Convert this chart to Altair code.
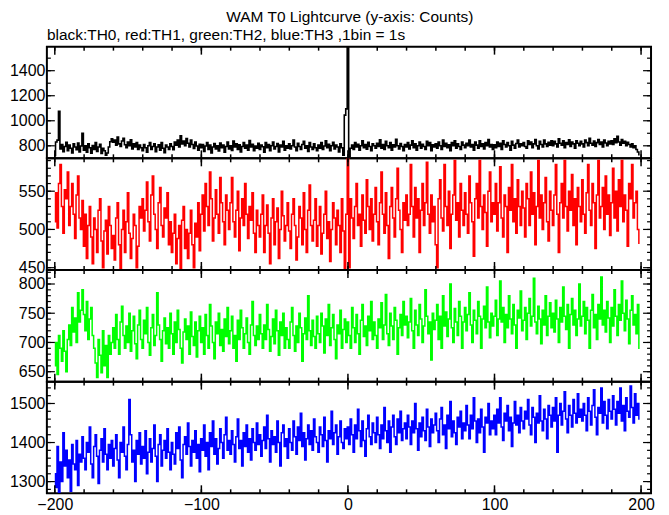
import altair as alt
import pandas as pd

T_START = -200
X_DOMAIN = [-205.4, 206.8]

# TH0 (black), counts per 1 s bin, t = -200 .. 199
th0 = [
    722, 830, 845, 1075, 775, 810, 752, 795, 828, 760, 805, 780, 742, 815, 790, 768, 822, 750, 798, 900,
    765, 800, 748, 815, 785, 740, 802, 770, 825, 755, 790, 812, 738, 780, 760, 725, 742, 790, 832, 855,
    828, 845, 805, 870, 815, 795, 838, 860, 808, 785, 830, 800, 848, 775, 815, 790, 825, 770, 805, 785,
    760, 810, 785, 748, 800, 825, 770, 795, 815, 752, 790, 808, 765, 825, 780, 745, 805, 790, 770, 815,
    795, 768, 830, 805, 845, 790, 880, 815, 838, 800, 858, 820, 790, 845, 810, 778, 830, 798, 765, 812,
    785, 810, 755, 798, 825, 770, 805, 742, 790, 818, 775, 800, 758, 822, 785, 805, 748, 795, 830, 775,
    800, 762, 838, 790, 815, 770, 808, 750, 795, 825, 780, 805, 765, 842, 790, 812, 760, 798, 780, 820,
    770, 805, 792, 748, 825, 785, 810, 760, 800, 830, 775, 795, 818, 750, 805, 790, 835, 765, 800, 780,
    815, 775, 800, 845, 790, 760, 820, 795, 770, 810, 835, 780, 800, 755, 825, 790, 770, 815, 785, 760,
    805, 780, 825, 770, 798, 840, 785, 812, 760, 800, 828, 775, 805, 790, 750, 815, 785, 725, 1045, 1095,
    1950, 715, 780, 805, 770, 825, 790, 812, 765, 800, 840, 785, 810, 772, 828, 795, 760, 815, 800, 780,
    820, 795, 848, 780, 810, 770, 835, 800, 785, 825, 765, 808, 790, 852, 800, 775, 818, 795, 760, 810,
    790, 825, 775, 805, 840, 785, 815, 765, 800, 830, 780, 812, 795, 770, 835, 800, 825, 760, 808, 790,
    815, 780, 830, 800, 770, 845, 795, 820, 785, 808, 760, 825, 800, 840, 780, 815, 795, 770, 830, 805,
    785, 820, 800, 845, 790, 810, 765, 830, 805, 780, 840, 795, 815, 775, 825, 800, 850, 790, 810, 770,
    808, 785, 830, 795, 820, 770, 840, 810, 790, 825, 800, 765, 835, 805, 780, 818, 845, 790, 815, 800,
    825, 795, 780, 840, 810, 830, 785, 815, 850, 800, 775, 835, 810, 790, 845, 815, 795, 828, 805, 840,
    800, 835, 815, 790, 855, 820, 805, 840, 785, 825, 810, 848, 795, 830, 815, 780, 840, 820, 800, 835,
    815, 790, 845, 825, 800, 860, 820, 805, 838, 795, 825, 850, 810, 830, 790, 845, 822, 800, 835, 815,
    840, 810, 855, 825, 875, 830, 805, 850, 820, 835, 800, 828, 810, 790, 815, 785, 800, 770, 750, 728,
]

# TH1 (red)
th1 = [
    510, 548, 502, 560, 585, 530, 495, 552, 540, 575, 505, 530, 560, 520, 488, 545, 570, 515, 500, 538,
    478, 520, 462, 505, 530, 490, 455, 515, 500, 470, 525, 540, 485, 450, 498, 512, 468, 530, 505, 475,
    492, 460, 515, 535, 480, 448, 500, 525, 470, 510, 548, 495, 462, 488, 520, 505, 450, 478, 530, 515,
    540, 498, 525, 562, 510, 485, 545, 570, 520, 500, 475, 535, 555, 505, 490, 528, 515, 548, 480, 510,
    470, 495, 520, 455, 488, 505, 448, 512, 530, 475, 500, 462, 495, 525, 480, 450, 508, 490, 535, 472,
    520, 545, 498, 560, 530, 505, 575, 540, 485, 515, 552, 520, 495, 568, 535, 510, 480, 545, 525, 500,
    535, 568, 510, 490, 525, 550, 472, 515, 540, 505, 560, 520, 488, 530, 512, 548, 495, 470, 525, 505,
    490, 520, 545, 470, 505, 532, 495, 455, 515, 540, 480, 510, 528, 462, 500, 550, 518, 485, 505, 535,
    498, 475, 520, 540, 505, 460, 490, 530, 515, 480, 548, 500, 470, 525, 558, 505, 485, 512, 540, 478,
    505, 530, 468, 495, 520, 550, 488, 510, 458, 500, 535, 515, 480, 525, 505, 470, 540, 498, 448, 520,
    600, 450, 540, 515, 488, 530, 560, 505, 520, 478, 545, 512, 495, 565, 530, 500, 540, 485, 520, 555,
    510, 480, 535, 575, 520, 495, 548, 505, 462, 530, 555, 515, 490, 540, 580, 525, 500, 470, 535, 512,
    545, 505, 520, 585, 530, 490, 555, 515, 540, 470, 525, 560, 505, 535, 588, 520, 495, 545, 510, 530,
    480, 450, 540, 565, 515, 498, 585, 530, 505, 550, 475, 520, 545, 590, 512, 535, 490, 560, 525, 505,
    548, 520, 495, 570, 535, 510, 465, 540, 560, 515, 590, 530, 500, 545, 522, 478, 550, 575, 510, 535,
    520, 560, 498, 535, 582, 515, 490, 545, 530, 470, 555, 525, 585, 510, 540, 495, 565, 530, 505, 550,
    528, 490, 560, 540, 505, 575, 520, 548, 480, 530, 590, 515, 545, 500, 535, 568, 510, 485, 550, 525,
    505, 545, 585, 520, 470, 535, 560, 515, 590, 530, 498, 550, 525, 572, 505, 540, 480, 555, 530, 510,
    565, 520, 495, 548, 585, 525, 505, 560, 535, 475, 545, 590, 515, 530, 555, 500, 570, 520, 545, 492,
    535, 580, 515, 550, 498, 565, 530, 590, 510, 545, 525, 478, 560, 540, 585, 515, 535, 550, 500, 482,
]

# TH2 (green)
th2 = [
    660, 700, 645, 712, 690, 668, 720, 685, 650, 705, 730, 695, 760, 718, 742, 700, 785, 735, 755, 790,
    748, 720, 770, 705, 740, 760, 712, 690, 665, 640, 705, 678, 648, 720, 660, 695, 640, 712, 680, 700,
    725, 690, 748, 705, 680, 735, 762, 712, 690, 728, 700, 750, 685, 720, 745, 698, 672, 730, 755, 705,
    690, 738, 715, 760, 700, 678, 725, 748, 695, 712, 785, 730, 705, 668, 720, 742, 698, 725, 690, 750,
    715, 680, 735, 700, 755, 722, 690, 665, 718, 740, 705, 728, 680, 752, 710, 695, 735, 675, 720, 745,
    700, 725, 680, 748, 712, 690, 765, 728, 700, 672, 735, 715, 750, 695, 722, 685, 740, 710, 760, 698,
    720, 745, 690, 712, 668, 738, 705, 755, 725, 690, 715, 742, 700, 680, 730, 770, 712, 695, 728, 705,
    748, 715, 690, 730, 705, 765, 722, 685, 710, 740, 698, 755, 720, 678, 735, 712, 750, 690, 725, 705,
    690, 735, 760, 712, 685, 728, 700, 750, 725, 668, 715, 742, 705, 780, 720, 695, 738, 710, 690, 745,
    715, 700, 750, 728, 682, 740, 712, 765, 695, 725, 748, 705, 672, 730, 715, 755, 690, 722, 740, 700,
    735, 712, 690, 760, 725, 700, 748, 715, 680, 738, 765, 710, 728, 695, 745, 720, 770, 705, 735, 712,
    690, 740, 725, 768, 705, 730, 782, 715, 695, 750, 728, 705, 760, 738, 680, 725, 748, 712, 770, 730,
    745, 708, 735, 775, 720, 690, 755, 730, 712, 765, 740, 700, 728, 790, 745, 715, 735, 670, 750, 722,
    738, 765, 705, 745, 690, 780, 728, 752, 710, 740, 800, 725, 700, 758, 735, 712, 770, 745, 690, 735,
    760, 720, 748, 785, 730, 700, 755, 738, 715, 770, 745, 690, 740, 762, 725, 795, 735, 708, 750, 728,
    745, 772, 712, 740, 805, 735, 760, 700, 748, 725, 780, 740, 715, 765, 730, 690, 755, 742, 788, 720,
    738, 760, 705, 750, 775, 728, 745, 810, 735, 715, 762, 740, 698, 755, 730, 780, 712, 745, 768, 725,
    750, 718, 772, 740, 700, 760, 735, 795, 745, 722, 765, 690, 748, 775, 730, 755, 712, 740, 800, 728,
    745, 770, 715, 760, 738, 690, 755, 782, 725, 748, 705, 765, 740, 812, 730, 755, 718, 770, 742, 700,
    760, 728, 790, 745, 712, 765, 738, 805, 750, 720, 772, 740, 698, 755, 780, 730, 748, 715, 765, 690,
]

# TH3 (blue)
th3 = [
    1320, 1285, 1390, 1272, 1350, 1300, 1425, 1340, 1380, 1310, 1355, 1275, 1395, 1345, 1330, 1405, 1290, 1370, 1350, 1415,
    1360, 1330, 1400, 1375, 1440, 1345, 1310, 1390, 1420, 1365, 1295, 1380, 1410, 1350, 1435, 1370, 1330, 1395, 1360, 1405,
    1340, 1385, 1420, 1355, 1310, 1400, 1375, 1440, 1365, 1330, 1395, 1510, 1420, 1350, 1380, 1300, 1405, 1370, 1425, 1345,
    1390, 1360, 1430, 1320, 1375, 1410, 1350, 1385, 1445, 1365, 1300, 1395, 1420, 1340, 1380, 1405, 1360, 1435, 1375, 1330,
    1400, 1370, 1345, 1425, 1385, 1440, 1355, 1310, 1395, 1415, 1370, 1450, 1390, 1340, 1405, 1375, 1430, 1360, 1395, 1325,
    1410, 1380, 1445, 1365, 1400, 1330, 1425, 1390, 1455, 1370, 1410, 1345, 1385, 1435, 1400, 1360, 1420, 1465, 1380, 1405,
    1370, 1430, 1395, 1350, 1415, 1460, 1385, 1405, 1340, 1425, 1390, 1445, 1375, 1410, 1355, 1435, 1400, 1380, 1450, 1395,
    1420, 1365, 1405, 1440, 1385, 1470, 1410, 1350, 1430, 1395, 1415, 1375, 1455, 1400, 1340, 1425, 1445, 1390, 1410, 1360,
    1435, 1400, 1380, 1455, 1415, 1370, 1440, 1405, 1475, 1390, 1425, 1355, 1410, 1445, 1395, 1430, 1380, 1460, 1415, 1400,
    1375, 1440, 1420, 1390, 1465, 1405, 1350, 1430, 1410, 1480, 1395, 1425, 1445, 1370, 1415, 1455, 1400, 1385, 1435, 1410,
    1440, 1395, 1460, 1420, 1375, 1445, 1410, 1485, 1430, 1390, 1455, 1405, 1365, 1435, 1470, 1415, 1395, 1450, 1425, 1400,
    1465, 1420, 1385, 1445, 1410, 1490, 1430, 1400, 1455, 1375, 1440, 1470, 1415, 1395, 1460, 1425, 1480, 1405, 1435, 1450,
    1410, 1470, 1440, 1395, 1455, 1425, 1500, 1435, 1380, 1450, 1415, 1465, 1430, 1405, 1485, 1440, 1390, 1460, 1425, 1445,
    1475, 1430, 1400, 1460, 1490, 1420, 1445, 1385, 1470, 1435, 1505, 1415, 1455, 1425, 1395, 1465, 1440, 1480, 1410, 1450,
    1430, 1495, 1445, 1410, 1470, 1435, 1515, 1455, 1400, 1460, 1425, 1485, 1440, 1375, 1465, 1450, 1500, 1420, 1455, 1435,
    1470, 1420, 1485, 1450, 1515, 1440, 1405, 1475, 1455, 1495, 1430, 1465, 1390, 1450, 1505, 1445, 1470, 1425, 1490, 1455,
    1435, 1480, 1460, 1510, 1445, 1420, 1490, 1465, 1400, 1475, 1450, 1520, 1455, 1430, 1485, 1460, 1410, 1495, 1470, 1440,
    1490, 1455, 1515, 1375, 1470, 1500, 1445, 1480, 1530, 1460, 1425, 1495, 1470, 1440, 1510, 1475, 1450, 1525, 1465, 1485,
    1455, 1500, 1470, 1430, 1515, 1480, 1445, 1495, 1535, 1465, 1420, 1490, 1475, 1540, 1450, 1505, 1470, 1435, 1510, 1480,
    1460, 1520, 1485, 1445, 1505, 1475, 1540, 1455, 1495, 1430, 1515, 1480, 1465, 1545, 1490, 1450, 1525, 1470, 1500, 1460,
]

x_major = [-200, -100, 0, 100, 200]
x_minor = list(range(-200, 201, 20))

panels = [
    dict(values=th0, color="#000000", sw=1.6, dom=[700, 1592], labels=[800, 1000, 1200, 1400],
         minor=list(range(700, 1600, 100))),
    dict(values=th1, color="#ff0000", sw=1.5, dom=[447, 593], labels=[450, 500, 550],
         minor=list(range(450, 600, 10))),
    dict(values=th2, color="#00ff00", sw=1.5, dom=[633, 824], labels=[650, 700, 750, 800],
         minor=list(range(640, 830, 10))),
    dict(values=th3, color="#0000ff", sw=1.5, dom=[1270, 1556], labels=[1300, 1400, 1500],
         minor=list(range(1280, 1560, 20))),
]

W = 606
H = 112
FONT = "Liberation Sans"
LABEL_SIZE = 16

charts = []
for i, p in enumerate(panels):
    last = i == len(panels) - 1
    df = pd.DataFrame({"t": list(range(T_START, T_START + len(p["values"]))), "c": p["values"]})
    xs = alt.Scale(domain=X_DOMAIN, nice=False, zero=False)
    ys = alt.Scale(domain=p["dom"], nice=False, zero=False)
    if last:
        xaxis = alt.Axis(values=x_major, ticks=False, domain=False, grid=False, title=None,
                         labelFont=FONT, labelFontSize=LABEL_SIZE, labelColor="black", labelPadding=3,
                         labelOverlap=False, format="d")
    else:
        xaxis = None
    yaxis = alt.Axis(values=p["labels"], ticks=False, domain=False, grid=False, title=None,
                     labelFont=FONT, labelFontSize=LABEL_SIZE, labelColor="black", labelPadding=2,
                     labelOverlap=False, labelBound=False, format="d")
    line = alt.Chart(df).mark_line(color=p["color"], strokeWidth=p["sw"], interpolate="step",
                                   clip=True).encode(
        x=alt.X("t:Q", scale=xs, axis=xaxis),
        y=alt.Y("c:Q", scale=ys, axis=yaxis),
    )
    ymin_df = pd.DataFrame({"c": p["minor"]})
    ymaj_df = pd.DataFrame({"c": p["labels"]})
    xmin_df = pd.DataFrame({"t": x_minor})
    xmaj_df = pd.DataFrame({"t": x_major})
    layers = [line]
    for d, ln in ((ymin_df, 4), (ymaj_df, 8)):
        layers.append(alt.Chart(d).mark_rule(color="black", strokeWidth=1.2).encode(
            y=alt.Y("c:Q", scale=ys, axis=yaxis), x=alt.value(0), x2=alt.value(ln)))
        layers.append(alt.Chart(d).mark_rule(color="black", strokeWidth=1.2).encode(
            y=alt.Y("c:Q", scale=ys, axis=yaxis), x=alt.value(W), x2=alt.value(W - ln)))
    for d, ln in ((xmin_df, 4), (xmaj_df, 8)):
        layers.append(alt.Chart(d).mark_rule(color="black", strokeWidth=1.5).encode(
            x=alt.X("t:Q", scale=xs, axis=xaxis), y=alt.value(0), y2=alt.value(ln)))
        layers.append(alt.Chart(d).mark_rule(color="black", strokeWidth=1.5).encode(
            x=alt.X("t:Q", scale=xs, axis=xaxis), y=alt.value(H), y2=alt.value(H - ln)))
    props = dict(width=W, height=H)
    if i == 0:
        props["title"] = alt.TitleParams(
            "black:TH0, red:TH1, green:TH2, blue:TH3 ,1bin = 1s", anchor="start", frame="group",
            font=FONT, fontSize=15.5, fontWeight="normal", color="black", offset=2)
    charts.append(alt.layer(*layers).properties(**props))

chart = alt.vconcat(*charts, spacing=0, bounds="flush").properties(
    title=alt.TitleParams("WAM T0 Lightcurve (y-axis: Counts)", anchor="middle", font=FONT,
                          fontSize=15.5, fontWeight="normal", color="black", dx=18, offset=2),
    padding={"left": 0, "top": 1, "right": 5, "bottom": 0},
).configure_view(stroke="black", strokeWidth=2).configure_concat(spacing=0)

chart.save("out.html", embed_options={"renderer": "svg", "actions": False})
